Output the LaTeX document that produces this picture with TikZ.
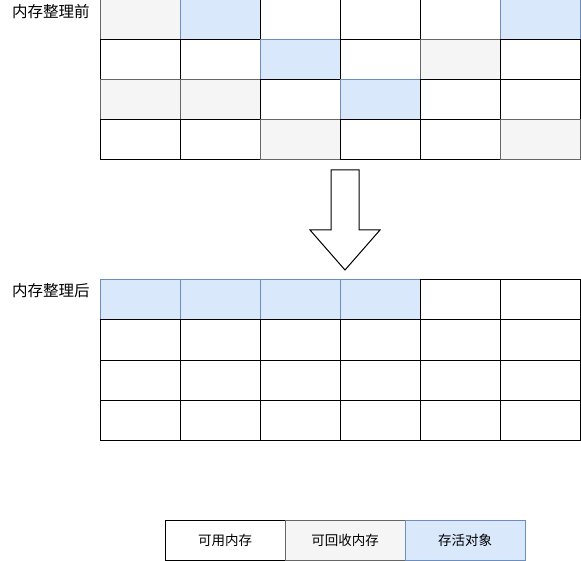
\documentclass[tikz,border=0pt]{standalone}
\usepackage{fontspec}
\setmainfont{Noto Sans CJK SC}
\definecolor{liveFill}{HTML}{DAE8FC}
\definecolor{liveLine}{HTML}{6C8EBF}
\definecolor{freeFill}{HTML}{F5F5F5}
\definecolor{freeLine}{HTML}{666666}
\begin{document}
\begin{tikzpicture}[x=1pt,y=-1pt]
\tikzstyle{cell}=[draw,shape=rectangle,minimum width=80pt,minimum height=40pt,inner sep=0pt,outer sep=0pt,line width=1pt];
\tikzstyle{w}=[cell,fill=white,draw=black];
\tikzstyle{g}=[cell,fill=freeFill,draw=freeLine];
\tikzstyle{b}=[cell,fill=liveFill,draw=liveLine];
\tikzstyle{title}=[font=\fontsize{15.5}{18}\selectfont];
\tikzstyle{key}=[minimum width=120pt,font=\fontsize{13.5}{16}\selectfont];
\useasboundingbox (0,0) rectangle (581,561);
% before compaction
\node[title] (before) at (51,12) {内存整理前};
\foreach \row/\types in {0/{g,b,w,w,w,b},1/{w,w,b,w,g,w},2/{g,g,w,b,w,w},3/{w,w,g,w,w,g}}
	\foreach \t [count=\col from 0] in \types
		\node[\t] (pre-\row-\col) at (140+80*\col,20+40*\row) {};
% arrow
\draw[line width=1pt,fill=white] (331,170) -- (359,170) -- (359,230) -- (380,230)
	-- (345,270) -- (310,230) -- (331,230) -- cycle;
% after compaction
\node[title] (after) at (51,291) {内存整理后};
\foreach \row/\types in {0/{b,b,b,b,w,w},1/{w,w,w,w,w,w},2/{w,w,w,w,w,w},3/{w,w,w,w,w,w}}
	\foreach \t [count=\col from 0] in \types
		\node[\t] (post-\row-\col) at (140+80*\col,300+40*\row) {};
% legend
\node[w,key] (free) at (225,540) {可用内存};
\node[g,key] (garbage) at (345,540) {可回收内存};
\node[b,key] (live) at (465,540) {存活对象};
\end{tikzpicture}
\end{document}
